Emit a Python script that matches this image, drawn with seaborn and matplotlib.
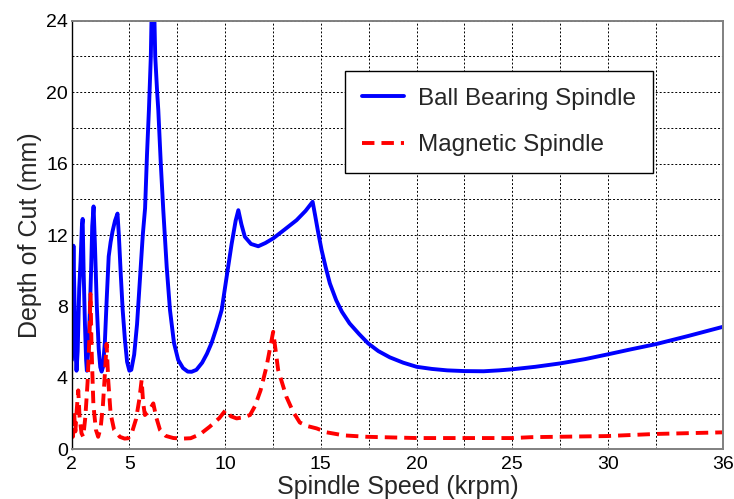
import numpy as np
import pandas as pd
import matplotlib
matplotlib.use("Agg")
import matplotlib.pyplot as plt
from matplotlib.ticker import FixedLocator
import seaborn as sns

# ball bearing spindle stability lobes (krpm, mm)
ball_speed = [2.00, 2.04, 2.08, 2.13, 2.19, 2.24, 2.30, 2.38, 2.45, 2.52, 2.56, 2.61, 2.68, 2.74, 2.78,
              2.85, 2.93, 3.00, 3.06, 3.13, 3.20, 3.30, 3.40, 3.48, 3.55,
              3.62, 3.72, 3.82, 3.92, 4.02, 4.12, 4.25, 4.38, 4.45, 4.55, 4.65, 4.77, 4.88, 5.00, 5.10,
              5.25, 5.40, 5.55, 5.70, 5.82, 5.92, 6.02, 6.12, 6.18, 6.28, 6.35, 6.45, 6.51, 6.64, 6.77,
              6.95, 7.12, 7.33, 7.55, 7.80, 8.05, 8.25, 8.50, 8.80, 9.05, 9.29, 9.55, 9.82, 10.08,
              10.34, 10.55, 10.69, 10.85, 11.03, 11.35, 11.73, 12.10, 12.51, 13.10, 13.73, 14.20, 14.57,
              14.70, 14.85, 15.04, 15.25, 15.47, 15.80, 16.10, 16.50, 17.00, 17.47, 18.00, 18.60, 19.30,
              20.00, 20.80, 21.60, 22.50, 23.50, 24.30, 25.00, 26.20, 27.50, 28.80, 30.00, 31.20, 32.50,
              34.20, 36.00]
ball_depth = [5.0, 9.0, 11.4, 8.5, 5.5, 4.4, 5.5, 9.0, 10.5, 12.5, 12.9, 10.0, 7.0, 5.0, 4.4,
              5.5, 7.5, 10.0, 12.5, 13.6, 11.5, 8.0, 5.6, 4.6, 4.35,
              4.6, 6.0, 8.5, 10.8, 11.6, 12.2, 12.8, 13.2, 12.0, 9.8, 7.8, 6.1, 4.9, 4.4, 4.45,
              5.3, 7.0, 9.5, 12.0, 13.5, 16.5, 19.0, 22.0, 25.5, 25.5, 22.0, 20.0, 19.0, 16.0, 13.4,
              10.2, 7.8, 5.95, 5.0, 4.55, 4.35, 4.34, 4.45, 4.85, 5.35, 5.95, 6.8, 7.8, 9.66,
              11.5, 12.8, 13.39, 12.6, 11.9, 11.5, 11.37, 11.55, 11.81, 12.3, 12.83, 13.35, 13.86,
              13.1, 12.2, 11.15, 10.2, 9.29, 8.35, 7.7, 7.05, 6.45, 5.93, 5.5, 5.15, 4.85,
              4.62, 4.5, 4.42, 4.38, 4.37, 4.42, 4.48, 4.62, 4.81, 5.05, 5.32, 5.6, 5.89,
              6.35, 6.86]

# magnetic spindle
mag_speed = [2.00, 2.05, 2.12, 2.18, 2.25, 2.33, 2.40, 2.50, 2.59, 2.70, 2.82, 2.92, 2.97, 3.03,
             3.12, 3.25, 3.37, 3.50, 3.62, 3.72, 3.81, 3.90, 4.02, 4.20, 4.50, 4.75, 4.94, 5.15,
             5.35, 5.52, 5.64, 5.72, 5.81, 5.95, 6.10, 6.25, 6.40, 6.60, 6.90, 7.30, 7.80, 8.20,
             8.70, 9.20, 9.70, 10.03, 10.30, 10.60, 11.00, 11.30, 11.55, 11.85, 12.16, 12.51,
             12.77, 13.20, 13.55, 13.90, 14.30, 14.78, 15.30, 16.20, 17.40, 20.00, 25.00, 26.00,
             29.90, 32.50, 36.00]
mag_depth = [2.0, 0.7, 1.9, 1.0, 2.2, 3.3, 1.8, 0.9, 0.7, 1.8, 3.8, 6.5, 8.7, 5.5,
             2.5, 1.1, 0.7, 1.2, 2.5, 4.2, 5.9, 3.8, 2.0, 1.1, 0.7, 0.6, 0.62, 1.0,
             1.7, 2.8, 3.88, 2.6, 1.92, 2.05, 2.3, 2.57, 1.8, 1.08, 0.75, 0.63, 0.6, 0.62,
             0.85, 1.27, 1.75, 2.2, 1.85, 1.73, 1.8, 1.92, 2.4, 3.3, 4.62, 6.58,
             4.44, 2.94, 2.1, 1.5, 1.3, 1.17, 0.95, 0.78, 0.7, 0.63, 0.63, 0.68,
             0.74, 0.86, 0.95]

x_labels = [2, 5, 10, 15, 20, 25, 30, 36]
x_grid_minor = [7.5, 12.5, 17.5, 22.5, 27.5, 32.5]
y_labels = [0, 4, 8, 12, 16, 20, 24]
y_grid_minor = [2, 6, 10, 14, 18, 22]

ball = pd.DataFrame({"speed": ball_speed, "depth": ball_depth})
mag = pd.DataFrame({"speed": mag_speed, "depth": mag_depth})

sns.set_theme(style="white")
plt.rcParams['font.family'] = ['Liberation Sans', 'DejaVu Sans']

fig, ax = plt.subplots(figsize=(7.34, 4.99), dpi=100)
fig.subplots_adjust(left=0.098, right=0.985, top=0.9585, bottom=0.0996)

sns.lineplot(data=ball, x="speed", y="depth", ax=ax, color="#0000FF", linewidth=2.8,
             estimator=None, sort=False, label="Ball Bearing Spindle")
sns.lineplot(data=mag, x="speed", y="depth", ax=ax, color="#FF0000", linewidth=2.8,
             estimator=None, sort=False, label="Magnetic Spindle")
ax.lines[1].set_linestyle((0, (3.2, 1.8)))

ax.set_xlim(2, 36)
ax.set_ylim(0, 24)
ax.set_xticks(x_labels)
ax.set_xticklabels([str(v) for v in x_labels])
ax.xaxis.set_minor_locator(FixedLocator(x_grid_minor))
ax.set_yticks(y_labels)
ax.set_yticklabels([str(v) for v in y_labels])
ax.yaxis.set_minor_locator(FixedLocator(y_grid_minor))
ax.tick_params(axis='both', which='both', length=0, labelsize=14, colors='black')
ax.tick_params(axis='x', pad=5)
ax.tick_params(axis='y', pad=3)
ax.grid(True, which='both', color='black', linestyle=(0, (2, 2)), linewidth=0.7)

for name, sp in ax.spines.items():
    sp.set_color('#808080')
    sp.set_linewidth(1.4)
ax.spines['left'].set_color('black')
ax.spines['left'].set_linewidth(1.0)

ax.set_xlabel("Spindle Speed (krpm)", fontsize=18, labelpad=1)
ax.set_ylabel("Depth of Cut (mm)", fontsize=18, labelpad=3)

leg = ax.legend(loc='upper left', bbox_to_anchor=(0.419, 0.883), fontsize=17.5,
                frameon=True, fancybox=False, shadow=False, framealpha=1,
                edgecolor='black', handlelength=1.75, labelspacing=1.0,
                borderpad=0.7, handletextpad=0.55, borderaxespad=0)
leg.get_frame().set_linewidth(1.0)

fig.savefig("out.png", dpi=100)
